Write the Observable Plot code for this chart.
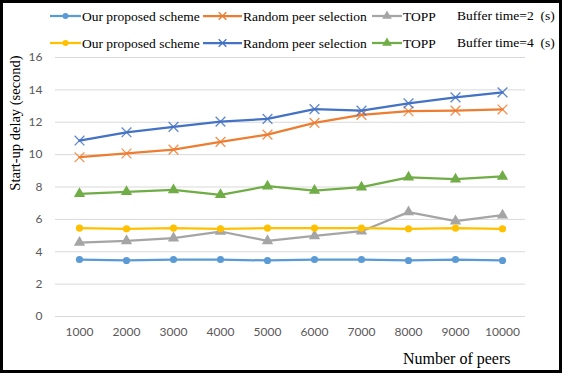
<!DOCTYPE html>
<html>
<head>
<meta charset="utf-8">
<script src="https://cdn.jsdelivr.net/npm/d3@7"></script>
<script src="https://cdn.jsdelivr.net/npm/@observablehq/plot@0.6"></script>
<style>
  html, body { margin: 0; padding: 0; background: #fff; }
  #wrap { position: relative; width: 562px; height: 373px; overflow: hidden; background: #fff; }
  #chart { position: absolute; left: 0; top: 0; }
  #legend { position: absolute; left: 0; top: 0; pointer-events: none; }
  #border { position: absolute; left: 0; top: 0; width: 562px; height: 373px; box-sizing: border-box; border: 3px solid #000; pointer-events: none; }
</style>
</head>
<body>
<div id="wrap">
  <div id="chart"></div>
  <svg id="legend" width="562" height="60"></svg>
  <div id="border"></div>
</div>
<script>
// ---- data ----
const peers = ["1000","2000","3000","4000","5000","6000","7000","8000","9000","10000"];
const yTicks = [0, 2, 4, 6, 8, 10, 12, 14, 16];

const ourScheme2 = [3.52, 3.46, 3.52, 3.52, 3.46, 3.52, 3.52, 3.46, 3.52, 3.46];
const randomPeer2 = [9.84, 10.07, 10.31, 10.79, 11.24, 11.96, 12.46, 12.68, 12.72, 12.79];
const topp2 = [4.57, 4.67, 4.84, 5.25, 4.67, 4.98, 5.27, 6.45, 5.89, 6.26];

const ourScheme4 = [5.46, 5.42, 5.46, 5.42, 5.46, 5.46, 5.46, 5.42, 5.46, 5.42];
const randomPeer4 = [10.87, 11.38, 11.71, 12.04, 12.21, 12.81, 12.72, 13.17, 13.54, 13.85];
const topp4 = [7.58, 7.70, 7.82, 7.52, 8.05, 7.78, 7.99, 8.60, 8.48, 8.65];

const seriesNames = ["Our proposed scheme", "Random peer selection", "TOPP"];
const bufferLabels = ["Buffer time=2\u00a0\u00a0(s)", "Buffer time=4\u00a0\u00a0(s)"];

// ---- styling ----
const series = [
  {name: seriesNames[0], row: 0, values: ourScheme2, color: "#5B9BD5", symbol: "circle"},
  {name: seriesNames[1], row: 0, values: randomPeer2, color: "#ED7D31", symbol: "times"},
  {name: seriesNames[2], row: 0, values: topp2, color: "#A5A5A5", symbol: "triangle"},
  {name: seriesNames[0], row: 1, values: ourScheme4, color: "#FFC000", symbol: "circle"},
  {name: seriesNames[1], row: 1, values: randomPeer4, color: "#4472C4", symbol: "times"},
  {name: seriesNames[2], row: 1, values: topp4, color: "#70AD47", symbol: "triangle"}
];

const marks = [
  Plot.gridY(yTicks, {stroke: "#D9D9D9", strokeOpacity: 1, strokeWidth: 1}),
  Plot.axisY(yTicks, {tickSize: 0, tickPadding: 13, label: null}),
  Plot.axisX({tickSize: 0, tickPadding: 11, label: null}),
  Plot.text(["Number of peers"], {frameAnchor: "bottom-right", text: d => d, dx: -15, dy: 42,
    textAnchor: "end", lineAnchor: "middle", fontFamily: "Liberation Serif", fontSize: 16, fill: "#000"}),
  Plot.text(["Start-up delay (second)"], {frameAnchor: "left", text: d => d, rotate: -90, dx: -40, dy: -64,
    textAnchor: "middle", lineAnchor: "middle", fontFamily: "Liberation Serif", fontSize: 14.5, fill: "#000"})
];

for (const s of series) {
  const data = peers.map((p, i) => ({x: p, y: s.values[i]}));
  marks.push(Plot.line(data, {x: "x", y: "y", stroke: s.color, strokeWidth: 2.25}));
  if (s.symbol === "times") {
    marks.push(Plot.dot(data, {x: "x", y: "y", symbol: "times", r: 4.5, stroke: s.color, strokeWidth: 1.3, strokeOpacity: 0.85}));
  } else if (s.symbol === "triangle") {
    marks.push(Plot.dot(data, {x: "x", y: "y", symbol: "triangle", r: 4.2, fill: s.color, stroke: "none"}));
  } else {
    marks.push(Plot.dot(data, {x: "x", y: "y", symbol: "circle", r: 3.6, fill: s.color, stroke: "none"}));
  }
}

const chart = Plot.plot({
  width: 562,
  height: 373,
  marginLeft: 55,
  marginRight: 37,
  marginTop: 57,
  marginBottom: 57,
  x: {type: "point", domain: peers, padding: 0.5},
  y: {domain: [0, 16]},
  style: {fontFamily: "Lato, sans-serif", fontSize: "12px", color: "#595959", background: "transparent"},
  marks
});
document.getElementById("chart").appendChild(chart);

// ---- legend ----
const leg = d3.select("#legend");
const rowY = [16, 43];
const lineX = [50, 203, 372];
const textX = [82, 243, 403];
const sym = {circle: d3.symbolCircle, times: d3.symbolTimes, triangle: d3.symbolTriangle};
for (const s of series) {
  const idx = seriesNames.indexOf(s.name);
  const y = rowY[s.row];
  const x0 = lineX[idx], x1 = textX[idx] - 1;
  leg.append("line").attr("x1", x0).attr("x2", x1).attr("y1", y).attr("y2", y)
    .attr("stroke", s.color).attr("stroke-width", 2.25);
  const p = leg.append("path").attr("transform", `translate(${(x0 + x1) / 2},${y})`)
    .attr("d", d3.symbol(sym[s.symbol], s.symbol === "circle" ? 28 : 40)());
  if (s.symbol === "times") p.attr("fill", "none").attr("stroke", s.color).attr("stroke-width", 1.3);
  else p.attr("fill", s.color);
  leg.append("text").attr("x", textX[idx]).attr("y", y).attr("dy", "0.35em")
    .attr("font-family", "Liberation Serif").attr("font-size", 13.5).attr("fill", "#000")
    .text(s.name);
}
bufferLabels.forEach((t, i) => {
  leg.append("text").attr("x", 457).attr("y", rowY[i] - 1).attr("dy", "0.35em")
    .attr("font-family", "Liberation Serif").attr("font-size", 13.5).attr("fill", "#000")
    .attr("xml:space", "preserve").text(t);
});
</script>
</body>
</html>
